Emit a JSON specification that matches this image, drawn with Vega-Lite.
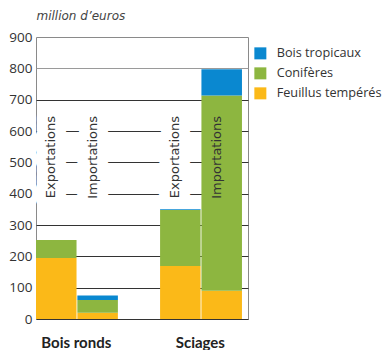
{
  "$schema": "https://vega.github.io/schema/vega-lite/v6.json",
  "autosize": "none",
  "width": 212,
  "height": 282,
  "padding": {"left": 36, "top": 37, "right": 136, "bottom": 31},
  "config": {
    "view": {"stroke": "#8a8a8a", "strokeWidth": 1},
    "font": "Open Sans"
  },
  "datasets": {
    "bars": [
      {"produit": "Bois ronds", "flux": "Exportations", "essence": "Feuillus tempérés", "ordre": 1, "valeur": 195},
      {"produit": "Bois ronds", "flux": "Exportations", "essence": "Conifères", "ordre": 2, "valeur": 57},
      {"produit": "Bois ronds", "flux": "Exportations", "essence": "Bois tropicaux", "ordre": 3, "valeur": 0},
      {"produit": "Bois ronds", "flux": "Importations", "essence": "Feuillus tempérés", "ordre": 1, "valeur": 20},
      {"produit": "Bois ronds", "flux": "Importations", "essence": "Conifères", "ordre": 2, "valeur": 41},
      {"produit": "Bois ronds", "flux": "Importations", "essence": "Bois tropicaux", "ordre": 3, "valeur": 14},
      {"produit": "Sciages", "flux": "Exportations", "essence": "Feuillus tempérés", "ordre": 1, "valeur": 169},
      {"produit": "Sciages", "flux": "Exportations", "essence": "Conifères", "ordre": 2, "valeur": 179},
      {"produit": "Sciages", "flux": "Exportations", "essence": "Bois tropicaux", "ordre": 3, "valeur": 2},
      {"produit": "Sciages", "flux": "Importations", "essence": "Feuillus tempérés", "ordre": 1, "valeur": 90},
      {"produit": "Sciages", "flux": "Importations", "essence": "Conifères", "ordre": 2, "valeur": 623},
      {"produit": "Sciages", "flux": "Importations", "essence": "Bois tropicaux", "ordre": 3, "valeur": 84}
    ],
    "labels": [
      {"produit": "Bois ronds", "flux": "Exportations", "masque": true},
      {"produit": "Bois ronds", "flux": "Importations", "masque": true},
      {"produit": "Sciages", "flux": "Exportations", "masque": true},
      {"produit": "Sciages", "flux": "Importations", "masque": false}
    ]
  },
  "encoding": {
    "x": {
      "field": "slot",
      "type": "nominal",
      "scale": {
        "domain": ["Bois ronds|Exportations", "Bois ronds|Importations", "_", "Sciages|Exportations", "Sciages|Importations"],
        "paddingInner": 0.02,
        "paddingOuter": 0.073,
        "align": 0
      },
      "axis": {
        "title": null,
        "ticks": false,
        "tickSize": 0,
        "domain": false,
        "labelAngle": 0,
        "labelAlign": "center",
        "labelBaseline": "alphabetic",
        "labelPadding": 28,
        "labelOffset": 20,
        "labelFont": "Lato",
        "labelFontWeight": "bold",
        "labelFontSize": 15,
        "labelColor": "#222222",
        "labelExpr": "datum.value == 'Bois ronds|Exportations' ? 'Bois ronds' : (datum.value == 'Sciages|Exportations' ? 'Sciages' : '')"
      }
    }
  },
  "layer": [
    {
      "data": {"name": "labels"},
      "transform": [
        {"calculate": "datum.produit + '|' + datum.flux", "as": "slot"},
        {"filter": "datum.masque"}
      ],
      "mark": {"type": "text", "angle": 270, "align": "right", "baseline": "middle", "dy": -5, "fontSize": 13, "font": "DejaVu Sans", "stroke": "white", "strokeWidth": 22, "strokeJoin": "round", "fill": "white"},
      "encoding": {
        "y": {"datum": 648, "type": "quantitative"},
        "text": {"field": "flux"}
      }
    },
    {
      "data": {"name": "bars"},
      "transform": [{"calculate": "datum.produit + '|' + datum.flux", "as": "slot"}],
      "mark": {"type": "bar"},
      "encoding": {
        "y": {
          "field": "valeur",
          "type": "quantitative",
          "stack": "zero",
          "scale": {"domain": [0, 900], "nice": false},
          "axis": {
            "values": [0, 100, 200, 300, 400, 500, 600, 700, 800, 900],
            "tickCount": 20,
            "labelOverlap": false,
            "title": "million d’euros",
            "titleAngle": 0,
            "titleAlign": "left",
            "titleBaseline": "alphabetic",
            "titleX": 0,
            "titleY": -18,
            "titleFont": "DejaVu Sans",
            "titleFontStyle": "italic",
            "titleFontWeight": "normal",
            "titleFontSize": 12,
            "titleColor": "#444444",
            "domain": false,
            "ticks": false,
            "labelPadding": 4,
            "labelFont": "Open Sans",
            "labelFontSize": 13.5,
            "labelColor": "#333333",
            "grid": true,
            "gridWidth": 1,
            "gridColor": {
              "condition": [
                {"test": "datum.value === 900", "value": "transparent"},
                {"test": "datum.value === 800", "value": "#9a9a9a"}
              ],
              "value": "#333333"
            }
          }
        },
        "color": {
          "field": "essence",
          "type": "nominal",
          "scale": {
            "domain": ["Bois tropicaux", "Conifères", "Feuillus tempérés"],
            "range": ["#0A88D0", "#8DB640", "#FBB918"]
          },
          "legend": {
            "title": null,
            "orient": "none",
            "legendX": 218,
            "legendY": 10,
            "padding": 0,
            "symbolType": "square",
            "symbolSize": 144,
            "symbolStrokeWidth": 0,
            "labelFont": "Open Sans",
            "labelFontSize": 12.7,
            "labelColor": "#333333",
            "labelOffset": 10,
            "rowPadding": 6
          }
        },
        "order": {"field": "ordre", "type": "quantitative", "sort": "ascending"}
      }
    },
    {
      "data": {"name": "labels"},
      "transform": [{"calculate": "datum.produit + '|' + datum.flux", "as": "slot"}],
      "mark": {"type": "text", "angle": 270, "align": "right", "baseline": "middle", "dy": -5, "fontSize": 13, "font": "DejaVu Sans", "fill": "#333333"},
      "encoding": {
        "y": {"datum": 648, "type": "quantitative"},
        "text": {"field": "flux"}
      }
    }
  ]
}
